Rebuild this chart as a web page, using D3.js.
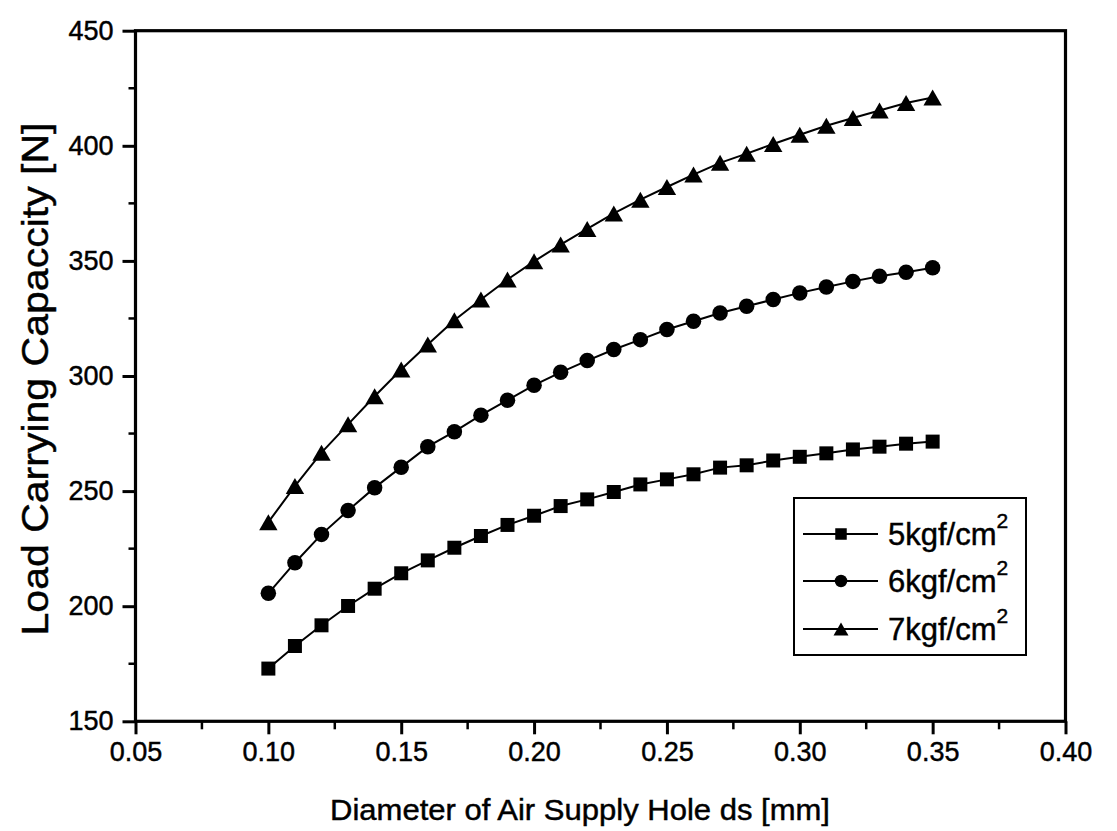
<!DOCTYPE html>
<html>
<head>
<meta charset="utf-8">
<script src="https://cdn.jsdelivr.net/npm/d3@7/dist/d3.min.js"></script>
<style>
  html, body { margin: 0; padding: 0; background: #fff; }
  svg { display: block; font-family: "Liberation Sans", Arial, Helvetica, sans-serif; }
  svg text { stroke: #000; stroke-width: 0.45px; fill: #000; }
</style>
</head>
<body>
<svg id="chart" width="1117" height="831"></svg>
<script>
// Supply hole diameter ds [mm]
const diameters = [0.10, 0.11, 0.12, 0.13, 0.14, 0.15, 0.16, 0.17, 0.18, 0.19, 0.20, 0.21, 0.22,
                   0.23, 0.24, 0.25, 0.26, 0.27, 0.28, 0.29, 0.30, 0.31, 0.32, 0.33, 0.34, 0.35];

// Load carrying capacity [N] at each supply pressure
const load5 = [172.9, 182.7, 191.7, 200.1, 207.6, 214.3, 219.9, 225.4, 230.5, 235.3, 239.3, 243.5, 246.4,
               249.6, 252.9, 255.1, 257.3, 260.2, 261.2, 263.3, 264.9, 266.4, 268.1, 269.3, 270.6, 271.5];
const load6 = [205.6, 218.9, 231.2, 241.6, 251.5, 260.4, 269.3, 275.8, 283.0, 289.5, 296.0, 301.6, 306.7,
               311.5, 315.8, 320.2, 323.8, 327.4, 330.3, 333.2, 336.1, 338.7, 341.1, 343.3, 345.1, 347.0];
const load7 = [236.5, 252.2, 266.7, 279.0, 291.2, 302.8, 313.7, 324.2, 333.2, 341.9, 349.8, 357.1, 363.9,
               370.6, 376.6, 382.1, 387.5, 392.6, 396.6, 400.8, 404.8, 408.7, 412.1, 415.3, 418.6, 421.0];

const seriesNames = ["5kgf/cm", "6kgf/cm", "7kgf/cm"];
const seriesShapes = ["square", "circle", "triangle"];

const xTicks = [0.05, 0.10, 0.15, 0.20, 0.25, 0.30, 0.35, 0.40];
const yTicks = [150, 200, 250, 300, 350, 400, 450];

const xTitle = "Diameter of Air Supply Hole ds [mm]";
const yTitle = "Load Carrying Capaccity [N]";

// ---- layout ----
const plot = { left: 135.5, right: 1065.5, top: 30.7, bottom: 721.3 };

const svg = d3.select("#chart");
svg.append("rect").attr("width", 1117).attr("height", 831).attr("fill", "#fff");

const x = d3.scaleLinear().domain([0.05, 0.40]).range([plot.left, plot.right]);
const y = d3.scaleLinear().domain([150, 450]).range([plot.bottom, plot.top]);

// marker path generator, centred on its bounding box
function markerPath(shape, s) {
  if (shape === "square") {
    const h = s / 2;
    return `M${-h},${-h}H${h}V${h}H${-h}Z`;
  }
  if (shape === "circle") {
    const r = s / 2;
    return `M${r},0A${r},${r},0,1,1,${-r},0A${r},${r},0,1,1,${r},0Z`;
  }
  const w = s * 1.15 / 2, h = s / 2;
  return `M0,${-h}L${w},${h}L${-w},${h}Z`;
}

const markerSize = { square: 14, circle: 15.5, triangle: 16 };
const legendMarkerSize = { square: 11.5, circle: 12.5, triangle: 13 };

// ---- axes ----
const fmt = d3.format(".2f");

const xAxis = d3.axisBottom(x).tickValues(xTicks).tickFormat(fmt).tickSize(13).tickPadding(8);
const gx = svg.append("g").attr("transform", `translate(0,${plot.bottom})`).call(xAxis);
gx.select(".domain").remove();
gx.selectAll(".tick line").attr("stroke", "#000").attr("stroke-width", 3);
gx.selectAll(".tick text").attr("font-size", 27).attr("fill", "#000")
  .attr("font-family", "'Liberation Sans', Arial, sans-serif");

// minor x ticks
const xMinor = d3.range(0, xTicks.length - 1).map(i => (xTicks[i] + xTicks[i + 1]) / 2);
svg.append("g").selectAll("line").data(xMinor).join("line")
  .attr("x1", d => x(d)).attr("x2", d => x(d))
  .attr("y1", plot.bottom).attr("y2", plot.bottom + 8)
  .attr("stroke", "#000").attr("stroke-width", 2.5);

const yAxis = d3.axisLeft(y).tickValues(yTicks).tickFormat(d3.format("d")).tickSize(13).tickPadding(9);
const gy = svg.append("g").attr("transform", `translate(${plot.left},0)`).call(yAxis);
gy.select(".domain").remove();
gy.selectAll(".tick line").attr("stroke", "#000").attr("stroke-width", 3);
gy.selectAll(".tick text").attr("font-size", 27).attr("fill", "#000")
  .attr("font-family", "'Liberation Sans', Arial, sans-serif");

const yMinor = d3.range(0, yTicks.length - 1).map(i => (yTicks[i] + yTicks[i + 1]) / 2);
svg.append("g").selectAll("line").data(yMinor).join("line")
  .attr("x1", plot.left - 7).attr("x2", plot.left)
  .attr("y1", d => y(d)).attr("y2", d => y(d))
  .attr("stroke", "#000").attr("stroke-width", 2.5);

// frame
svg.append("rect")
  .attr("x", plot.left).attr("y", plot.top)
  .attr("width", plot.right - plot.left).attr("height", plot.bottom - plot.top)
  .attr("fill", "none").attr("stroke", "#000").attr("stroke-width", 3.2);

// ---- axis titles ----
svg.append("text")
  .attr("x", 580).attr("y", 820)
  .attr("text-anchor", "middle")
  .attr("font-size", 29)
  .attr("textLength", 500).attr("lengthAdjust", "spacingAndGlyphs")
  .text(xTitle);

svg.append("text")
  .attr("transform", "translate(48,379) rotate(-90)")
  .attr("text-anchor", "middle")
  .attr("font-size", 36)
  .attr("textLength", 513).attr("lengthAdjust", "spacingAndGlyphs")
  .text(yTitle);

// ---- series ----
const series = [load5, load6, load7].map((vals, i) => ({
  name: seriesNames[i],
  shape: seriesShapes[i],
  points: diameters.map((d, j) => ({ x: d, y: vals[j] }))
}));

const line = d3.line().x(d => x(d.x)).y(d => y(d.y));

const gSeries = svg.append("g");
series.forEach(s => {
  gSeries.append("path")
    .attr("d", line(s.points))
    .attr("fill", "none").attr("stroke", "#000").attr("stroke-width", 2);
  gSeries.append("g").selectAll("path").data(s.points).join("path")
    .attr("transform", d => `translate(${x(d.x)},${y(d.y)})`)
    .attr("d", markerPath(s.shape, markerSize[s.shape]))
    .attr("fill", "#000");
});

// ---- legend ----
const legend = svg.append("g");
legend.append("rect")
  .attr("x", 794).attr("y", 498).attr("width", 232).attr("height", 157)
  .attr("fill", "#fff").attr("stroke", "#000").attr("stroke-width", 2);

const rowY = [534, 581, 629];
series.forEach((s, i) => {
  const g = legend.append("g").attr("transform", `translate(0,${rowY[i]})`);
  g.append("line").attr("x1", 803).attr("x2", 878).attr("y1", 0).attr("y2", 0)
    .attr("stroke", "#000").attr("stroke-width", 2);
  g.append("path").attr("transform", "translate(841,0)")
    .attr("d", markerPath(s.shape, legendMarkerSize[s.shape])).attr("fill", "#000");
  const t = g.append("text").attr("x", 888).attr("y", 11).attr("font-size", 31);
  t.append("tspan").text(s.name);
  t.append("tspan").attr("font-size", 21).attr("dy", -17).text("2");
});
</script>
</body>
</html>
